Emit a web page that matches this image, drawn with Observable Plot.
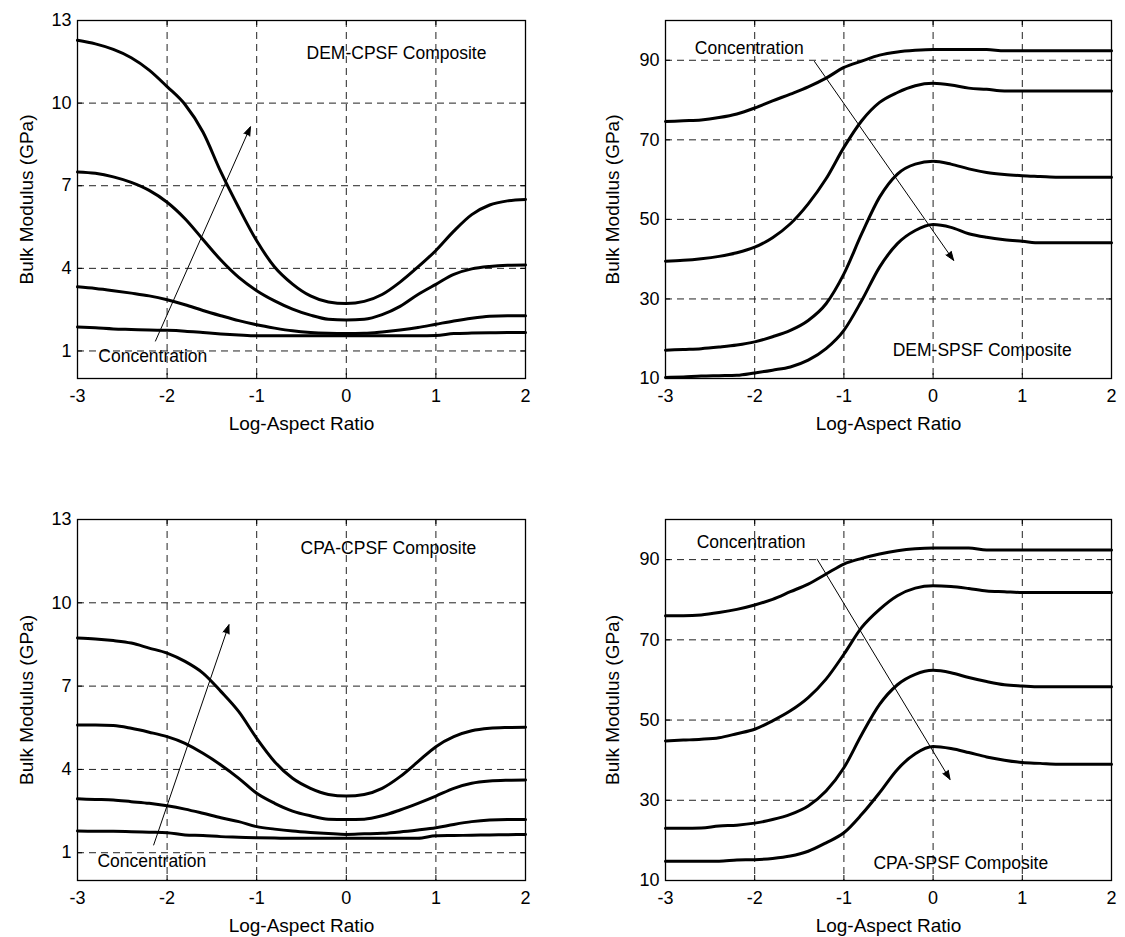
<!DOCTYPE html>
<html><head><meta charset="utf-8">
<script src="https://cdn.jsdelivr.net/npm/d3@7"></script>
<script src="https://cdn.jsdelivr.net/npm/@observablehq/plot@0.6"></script>
<style>
body{margin:0;background:#fff;}
#wrap{position:relative;width:1125px;height:937px;background:#fff;overflow:hidden}
#wrap>div{position:absolute}
svg{font-family:"Liberation Sans",Arial,Helvetica,sans-serif}
</style></head><body><div id="wrap"></div>
<script>
// Log-aspect ratio sample positions
const logAspect = [-3,-2.8,-2.6,-2.4,-2.2,-2.0,-1.8,-1.6,-1.4,-1.2,-1.0,-0.8,-0.6,-0.4,-0.2,0,0.2,0.4,0.6,0.8,1.0,1.2,1.4,1.6,1.8,2.0];
const xTickValues = [-3,-2,-1,0,1,2];
const xGridValues = [-2,-1,0,1];
const yTicksCPSF = [1,4,7,10,13];
const yGridCPSF = [1,4,7,10];
const yTicksSPSF = [10,30,50,70,90];
const yGridSPSF = [30,50,70,90];

// DEM-CPSF composite (GPa)
const demCpsf1 = [12.28,12.15,11.95,11.65,11.2,10.6,9.95,8.95,7.5,6.2,5.0,4.05,3.43,3.0,2.78,2.72,2.8,3.05,3.5,4.05,4.65,5.35,5.95,6.3,6.45,6.5];
const demCpsf2 = [7.5,7.45,7.32,7.12,6.83,6.4,5.8,5.05,4.3,3.67,3.19,2.82,2.52,2.3,2.15,2.12,2.15,2.32,2.62,3.05,3.42,3.78,3.98,4.07,4.11,4.12];
const demCpsf3 = [3.33,3.27,3.19,3.1,3.0,2.86,2.68,2.47,2.28,2.1,1.95,1.83,1.73,1.67,1.64,1.63,1.64,1.69,1.76,1.85,1.97,2.09,2.19,2.26,2.28,2.28];
const demCpsf4 = [1.87,1.84,1.8,1.78,1.76,1.75,1.72,1.67,1.62,1.58,1.55,1.55,1.55,1.55,1.55,1.55,1.55,1.55,1.55,1.55,1.56,1.63,1.65,1.66,1.67,1.67];

// DEM-SPSF composite (GPa)
const demSpsf1 = [74.6,74.8,75.0,75.6,76.5,78.0,79.8,81.5,83.3,85.5,88.2,89.8,91.3,92.1,92.5,92.7,92.7,92.7,92.7,92.4,92.4,92.4,92.4,92.4,92.4,92.4];
const demSpsf2 = [39.5,39.7,40.1,40.7,41.6,43.0,45.4,48.9,53.9,60.2,68.1,74.8,79.4,81.9,83.6,84.2,83.8,83.0,82.7,82.3,82.3,82.3,82.3,82.3,82.3,82.3];
const demSpsf3 = [17.1,17.3,17.5,17.9,18.4,19.2,20.5,22.1,24.6,28.8,36.3,46.4,55.6,61.4,63.9,64.6,63.9,62.7,61.8,61.3,61.0,60.8,60.6,60.6,60.6,60.6];
const demSpsf4 = [10.25,10.4,10.6,10.7,10.8,11.4,12.1,12.9,14.6,17.5,22.1,29.6,38.0,43.9,47.2,48.7,48.0,46.4,45.5,44.9,44.5,44.1,44.1,44.1,44.1,44.1];

// CPA-CPSF composite (GPa)
const cpaCpsf1 = [8.73,8.7,8.64,8.55,8.37,8.19,7.89,7.47,6.81,6.08,5.12,4.28,3.68,3.32,3.1,3.04,3.1,3.32,3.74,4.28,4.82,5.18,5.39,5.48,5.51,5.52];
const cpaCpsf2 = [5.6,5.6,5.58,5.48,5.34,5.18,4.94,4.58,4.16,3.68,3.14,2.78,2.5,2.33,2.21,2.2,2.21,2.33,2.54,2.78,3.04,3.32,3.5,3.58,3.61,3.62];
const cpaCpsf3 = [2.94,2.92,2.9,2.84,2.78,2.69,2.57,2.42,2.26,2.12,1.94,1.85,1.78,1.73,1.69,1.66,1.68,1.7,1.75,1.82,1.9,2.02,2.12,2.18,2.2,2.2];
const cpaCpsf4 = [1.78,1.77,1.77,1.76,1.74,1.72,1.64,1.62,1.58,1.56,1.54,1.53,1.52,1.52,1.52,1.52,1.52,1.52,1.52,1.52,1.61,1.62,1.63,1.64,1.65,1.66];

// CPA-SPSF composite (GPa)
const cpaSpsf1 = [76.0,76.0,76.2,76.8,77.6,78.7,80.1,82.0,83.9,86.4,88.9,90.3,91.4,92.2,92.7,92.9,92.9,92.9,92.4,92.4,92.4,92.4,92.4,92.4,92.4,92.4];
const cpaSpsf2 = [44.8,45.0,45.2,45.6,46.6,47.7,49.8,52.3,55.6,60.2,66.4,73.1,77.6,81.0,82.9,83.5,83.3,82.8,82.2,82.0,81.8,81.8,81.8,81.8,81.8,81.8];
const cpaSpsf3 = [23.0,23.0,23.1,23.6,23.8,24.3,25.2,26.5,28.6,32.3,38.1,46.4,53.9,58.8,61.4,62.4,61.8,60.6,59.6,58.8,58.5,58.3,58.3,58.3,58.3,58.3];
const cpaSpsf4 = [14.8,14.8,14.8,14.8,15.1,15.2,15.5,16.1,17.3,19.4,21.9,26.5,31.9,37.7,41.6,43.4,42.9,41.9,40.8,40.0,39.4,39.2,39.0,39.0,39.0,39.0];

// annotations
const panelTitles = ["DEM-CPSF Composite","DEM-SPSF Composite","CPA-CPSF Composite","CPA-SPSF Composite"];
const titleX = [0.56, 0.55, 0.47, 0.31];
const titleY = [11.8, 17.1, 11.97, 14.2];
const concX = [-2.16, -2.06, -2.17, -2.04];
const concY = [0.79, 92.9, 0.70, 94.4];
const arrowX1 = [-2.13, -1.33, -2.15, -1.30];
const arrowY1 = [1.36, 89.7, 1.28, 90.1];
const arrowX2 = [-1.07, 0.23, -1.31, 0.19];
const arrowY2 = [9.14, 39.7, 9.21, 35.2];

const FONT = '"Liberation Sans",Arial,Helvetica,sans-serif';

function toRows(curves) {
  const rows = [];
  curves.forEach((c, k) => c.forEach((v, i) => rows.push({x: logAspect[i], y: v, s: k})));
  return rows;
}

function makePanel(i, curves, yDomain, yTicks, yGrid, layout) {
  const {width, height, ml, mr, mt, mb, ylabDx} = layout;
  const ph = height - mt - mb;
  const pw = width - ml - mr;
  const dash = {stroke: "#222", strokeOpacity: 1, strokeWidth: 1, strokeDasharray: "7,5"};
  return Plot.plot({
    width, height,
    marginLeft: ml, marginRight: mr, marginTop: mt, marginBottom: mb,
    style: {fontFamily: FONT, fontSize: "18px", background: "white", color: "black", overflow: "visible"},
    x: {domain: [-3, 2], label: null},
    y: {domain: yDomain, label: null},
    marks: [
      Plot.gridX(xGridValues, dash),
      Plot.gridY(yGrid, dash),
      Plot.tickX(xGridValues, {x: d => d, insetTop: ph - 5, stroke: "black"}),
      Plot.tickX(xGridValues, {x: d => d, insetBottom: ph - 5, stroke: "black"}),
      Plot.tickY(yGrid, {y: d => d, insetRight: pw - 5, stroke: "black"}),
      Plot.tickY(yGrid, {y: d => d, insetLeft: pw - 5, stroke: "black"}),
      Plot.axisX(xTickValues, {tickSize: 0, tickPadding: 11, fontSize: 18, label: null, tickFormat: d => String(d)}),
      Plot.axisY(yTicks, {tickSize: 0, tickPadding: 6, fontSize: 18, label: null, tickFormat: d => String(d)}),
      Plot.line(toRows(curves), {x: "x", y: "y", z: "s", stroke: "black", strokeWidth: 3, curve: "monotone-x"}),
      Plot.arrow([0], {x1: () => arrowX1[i], y1: () => arrowY1[i], x2: () => arrowX2[i], y2: () => arrowY2[i],
        stroke: "black", fill: "black", strokeWidth: 1, headLength: 14, headAngle: 40}),
      Plot.text([panelTitles[i]], {x: () => titleX[i], y: () => titleY[i], text: d => d, fontSize: 17.5, textAnchor: "middle", fill: "black"}),
      Plot.text(["Concentration"], {x: () => concX[i], y: () => concY[i], text: d => d, fontSize: 17.5, textAnchor: "middle", fill: "black"}),
      Plot.text(["Log-Aspect Ratio"], {frameAnchor: "bottom", dy: 45, text: d => d, fontSize: 19, textAnchor: "middle", lineAnchor: "middle", fill: "black"}),
      Plot.text(["Bulk Modulus (GPa)"], {frameAnchor: "left", dx: -ylabDx, rotate: -90, text: d => d, fontSize: 19, textAnchor: "middle", lineAnchor: "middle", fill: "black"}),
      Plot.frame({stroke: "black", strokeWidth: 1.3})
    ]
  });
}

const wrap = document.getElementById("wrap");
const panels = [
  {left: 0, top: 0, curves: [demCpsf1, demCpsf2, demCpsf3, demCpsf4], yDomain: [0, 13], yTicks: yTicksCPSF, yGrid: yGridCPSF,
   layout: {width: 562, height: 460, ml: 77, mr: 37, mt: 20, mb: 82, ylabDx: 51}},
  {left: 562, top: 0, curves: [demSpsf1, demSpsf2, demSpsf3, demSpsf4], yDomain: [10, 100], yTicks: yTicksSPSF, yGrid: yGridSPSF,
   layout: {width: 563, height: 460, ml: 103, mr: 14, mt: 20, mb: 82, ylabDx: 53}},
  {left: 0, top: 460, curves: [cpaCpsf1, cpaCpsf2, cpaCpsf3, cpaCpsf4], yDomain: [0, 13], yTicks: yTicksCPSF, yGrid: yGridCPSF,
   layout: {width: 562, height: 477, ml: 77, mr: 37, mt: 59, mb: 57, ylabDx: 51}},
  {left: 562, top: 460, curves: [cpaSpsf1, cpaSpsf2, cpaSpsf3, cpaSpsf4], yDomain: [10, 100], yTicks: yTicksSPSF, yGrid: yGridSPSF,
   layout: {width: 563, height: 477, ml: 103, mr: 14, mt: 59, mb: 57, ylabDx: 53}}
];
panels.forEach((p, i) => {
  const div = document.createElement("div");
  div.style.left = p.left + "px";
  div.style.top = p.top + "px";
  div.appendChild(makePanel(i, p.curves, p.yDomain, p.yTicks, p.yGrid, p.layout));
  wrap.appendChild(div);
});
</script>
</body></html>
